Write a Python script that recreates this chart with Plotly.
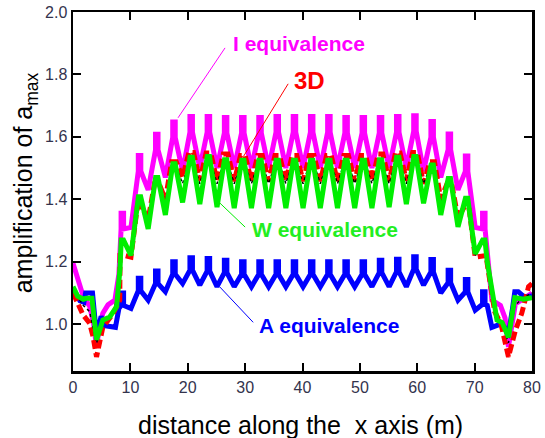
import plotly.graph_objects as go

# ---------------- data ----------------
# x positions (m) of the repeated peaks, shared by all curves
peak_x = [8.6, 11.6, 14.6, 17.6, 20.6, 23.6, 26.6, 29.6, 32.6, 35.6, 38.6,
          41.6, 44.6, 47.6, 50.6, 53.6, 56.6, 59.6, 62.6, 65.6, 68.6, 71.6]
# troughs lie midway between consecutive peaks
trough_x = [10.1, 13.1, 16.1, 19.1, 22.1, 25.1, 28.1, 31.1, 34.1, 37.1, 40.1,
            43.1, 46.1, 49.1, 52.1, 55.1, 58.1, 61.1, 64.1, 67.1, 70.1]

# I equivalence (magenta)
i_left_x = [0, 1.8, 2.9, 3.6, 4.1, 4.6, 5.2, 6.1, 7.3, 8.0]
i_left_y = [1.195, 1.088, 1.058, 1.0, 0.927, 0.99, 1.035, 1.062, 1.077, 1.16]
i_peaks = [1.355, 1.54, 1.608, 1.648, 1.665, 1.665, 1.662, 1.662, 1.662, 1.665, 1.665,
           1.665, 1.665, 1.662, 1.662, 1.662, 1.665, 1.668, 1.649, 1.609, 1.539, 1.355]
i_troughs = [1.31, 1.43, 1.47, 1.49, 1.50, 1.50, 1.50, 1.50, 1.50, 1.50, 1.50,
             1.50, 1.50, 1.50, 1.50, 1.50, 1.50, 1.49, 1.47, 1.43, 1.31]
i_right_x = [72.4, 73.0, 74.5, 75.3, 75.9, 76.5, 77.1, 78.0, 79.1, 80]
i_right_y = [1.20, 1.077, 1.06, 1.02, 0.927, 1.0, 1.065, 1.075, 1.088, 1.10]

# A equivalence (blue)
a_left_x = [0, 1.2, 1.9, 2.2, 3.4, 4.1, 4.9, 5.6, 7.4, 8.0]
a_left_y = [1.115, 1.075, 1.07, 1.10, 1.10, 0.962, 1.025, 0.995, 0.99, 1.05]
a_peaks = [1.10, 1.147, 1.17, 1.20, 1.213, 1.21, 1.205, 1.20, 1.20, 1.20, 1.20,
           1.20, 1.20, 1.20, 1.20, 1.205, 1.208, 1.216, 1.207, 1.173, 1.143, 1.104]
a_troughs = [1.05, 1.077, 1.104, 1.13, 1.125, 1.12, 1.12, 1.12, 1.12, 1.12, 1.12,
             1.12, 1.12, 1.12, 1.12, 1.12, 1.12, 1.125, 1.10, 1.077, 1.045]
a_right_x = [72.2, 73.0, 74.5, 75.2, 75.9, 76.6, 77.0, 77.6, 78.6, 80]
a_right_y = [1.06, 0.99, 1.0, 0.99, 0.968, 1.05, 1.104, 1.104, 1.088, 1.09]

# 3D (red dashed)
d_left_x = [0, 0.6, 1.75, 2.9, 3.5, 4.1, 4.7, 5.2, 7.0, 8.15]
d_left_y = [1.10, 1.077, 1.03, 1.003, 0.96, 0.895, 0.95, 0.99, 1.034, 1.077]
d_peaks = [1.22, 1.375, 1.45, 1.52, 1.55, 1.548, 1.545, 1.54, 1.54, 1.54, 1.54,
           1.54, 1.54, 1.54, 1.54, 1.545, 1.548, 1.55, 1.52, 1.45, 1.375, 1.22]
d_troughs = [1.215, 1.335, 1.40, 1.47, 1.46, 1.46, 1.458, 1.458, 1.458, 1.458, 1.458,
             1.458, 1.458, 1.458, 1.458, 1.458, 1.46, 1.45, 1.40, 1.34, 1.215]
d_right_x = [72.3, 73.5, 74.6, 75.9, 77.1, 78.2, 79.4, 80]
d_right_y = [1.18, 1.04, 1.0, 0.895, 0.98, 1.034, 1.12, 1.13]

# W equivalence (green)
w_left_x = [0, 0.8, 1.8, 2.3, 3.3, 4.1, 5.2, 6.4, 7.6, 8.2]
w_left_y = [1.12, 1.09, 1.08, 1.083, 1.083, 0.95, 1.013, 1.023, 1.056, 1.18]
w_peaks = [1.27, 1.408, 1.47, 1.514, 1.535, 1.537, 1.527, 1.525, 1.525, 1.525, 1.525,
           1.525, 1.525, 1.525, 1.525, 1.527, 1.535, 1.537, 1.51, 1.467, 1.403, 1.27]
w_troughs = [1.22, 1.305, 1.35, 1.39, 1.385, 1.375, 1.372, 1.372, 1.372, 1.372, 1.372,
             1.372, 1.372, 1.372, 1.372, 1.375, 1.385, 1.387, 1.35, 1.312, 1.225]
w_right_x = [72.2, 73.9, 74.8, 75.9, 77.0, 77.6, 78.5, 80]
w_right_y = [1.20, 1.013, 1.005, 0.958, 1.085, 1.083, 1.08, 1.085]

# thin black dashed reference curve
k_left_x = [0, 1.8, 2.9, 4.1, 5.2, 7.0, 8.2]
k_left_y = [1.11, 1.06, 1.04, 0.94, 1.0, 1.04, 1.12]
k_peaks = [1.27, 1.40, 1.465, 1.515, 1.535, 1.537, 1.53, 1.528, 1.528, 1.528, 1.528,
           1.528, 1.528, 1.528, 1.528, 1.53, 1.535, 1.537, 1.512, 1.465, 1.40, 1.27]
k_troughs = [1.22, 1.33, 1.39, 1.45, 1.45, 1.45, 1.45, 1.45, 1.45, 1.45, 1.45,
             1.45, 1.45, 1.45, 1.45, 1.45, 1.45, 1.45, 1.39, 1.33, 1.22]
k_right_x = [72.3, 73.9, 74.8, 75.9, 77.0, 78.2, 80]
k_right_y = [1.19, 1.02, 1.0, 0.94, 1.06, 1.08, 1.10]

x_ticks = [0, 10, 20, 30, 40, 50, 60, 70, 80]
y_ticks = [1.0, 1.2, 1.4, 1.6, 1.8, 2.0]
x_title = "distance along the  x axis (m)"
y_title = "amplification of a<sub>max</sub>"
labels = ["I equivalence", "3D", "W equivalence", "A equivalence"]


def series(left_x, left_y, peaks, troughs, right_x, right_y, half, spike):
    """Join the edge segments with the periodic peaks (flat top of
    half-width `half`, vertical sides of depth `spike`) and troughs."""
    xs, ys = list(left_x), list(left_y)
    for i, (px, top) in enumerate(zip(peak_x, peaks)):
        if spike:
            xs += [px - half, px - half, px + half, px + half]
            ys += [top - spike, top, top, top - spike]
        else:
            xs += [px - half, px + half]
            ys += [top, top]
        if i < len(troughs):
            xs.append(trough_x[i])
            ys.append(troughs[i])
    xs += list(right_x)
    ys += list(right_y)
    return xs, ys


fig = go.Figure()

ix, iy = series(i_left_x, i_left_y, i_peaks, i_troughs, i_right_x, i_right_y, 0.22, 0.05)
ax_, ay_ = series(a_left_x, a_left_y, a_peaks, a_troughs, a_right_x, a_right_y, 0.22, 0.04)
dx, dy = series(d_left_x, d_left_y, d_peaks, d_troughs, d_right_x, d_right_y, 0.4, 0)
wx, wy = series(w_left_x, w_left_y, w_peaks, w_troughs, w_right_x, w_right_y, 0.2, 0)
kx, ky = series(k_left_x, k_left_y, k_peaks, k_troughs, k_right_x, k_right_y, 0.15, 0)

fig.add_trace(go.Scatter(x=ix, y=iy, mode="lines", name=labels[0],
                         line=dict(color="#ff00ff", width=5)))
fig.add_trace(go.Scatter(x=ax_, y=ay_, mode="lines", name=labels[3],
                         line=dict(color="#0000ff", width=5)))
fig.add_trace(go.Scatter(x=dx, y=dy, mode="lines", name=labels[1],
                         line=dict(color="#ff0000", width=5, dash="9px,4px")))
fig.add_trace(go.Scatter(x=kx, y=ky, mode="lines", name="reference",
                         line=dict(color="#000000", width=1.5, dash="3px,3px")))
fig.add_trace(go.Scatter(x=wx, y=wy, mode="lines", name=labels[2],
                         line=dict(color="#00ee00", width=5)))

font = "Liberation Sans, Arial, sans-serif"

# curve labels with thin leader lines
fig.add_annotation(x=27.6, y=1.898, text="<b>I equivalence</b>", showarrow=False,
                   xanchor="left", yanchor="middle",
                   font=dict(family=font, size=21, color="#ff00ff"))
fig.add_annotation(x=38.1, y=1.78, text="<b>3D</b>", showarrow=False,
                   xanchor="left", yanchor="middle",
                   font=dict(family=font, size=24, color="#ff0000"))
fig.add_annotation(x=30.9, y=1.302, text="<b>W equivalence</b>", showarrow=False,
                   xanchor="left", yanchor="middle",
                   font=dict(family=font, size=21, color="#22ee22"))
fig.add_annotation(x=32.1, y=0.997, text="<b>A equivalence</b>", showarrow=False,
                   xanchor="left", yanchor="middle",
                   font=dict(family=font, size=21, color="#0000ff"))

fig.add_shape(type="line", x0=26.5, y0=1.885, x1=18.3, y1=1.661,
              line=dict(color="#ff00ff", width=1))
fig.add_shape(type="line", x0=37.5, y0=1.770, x1=29.7, y1=1.537,
              line=dict(color="#ff0000", width=1))
fig.add_shape(type="line", x0=25.6, y0=1.388, x1=30.0, y1=1.311,
              line=dict(color="#00ee00", width=1))
fig.add_shape(type="line", x0=25.6, y0=1.119, x1=31.4, y1=1.006,
              line=dict(color="#0000ff", width=1))

# axis titles
fig.add_annotation(xref="paper", yref="paper", x=-0.105, y=0.525, text=y_title,
                   textangle=-90, showarrow=False, xanchor="center", yanchor="middle",
                   font=dict(family=font, size=25, color="#000000"))
fig.add_annotation(xref="paper", yref="paper", x=0.495, y=-0.15, text=x_title,
                   showarrow=False, xanchor="center", yanchor="middle",
                   font=dict(family=font, size=25, color="#000000"))

axis_common = dict(showline=True, linecolor="black", linewidth=2.5, mirror="ticks",
                   ticks="inside", ticklen=8, tickwidth=2, tickcolor="black",
                   showgrid=False, zeroline=False, automargin=False,
                   tickfont=dict(family=font, size=16, color="#33334d"))

fig.update_xaxes(range=[0, 80], tickvals=x_ticks, ticktext=[str(v) for v in x_ticks],
                 **axis_common)
fig.update_yaxes(range=[0.85, 2.0], tickvals=y_ticks,
                 ticktext=[f"{v:.1f}" for v in y_ticks], **axis_common)

fig.update_layout(width=545, height=438, autosize=False,
                  margin=dict(l=73, r=13, t=12, b=67, autoexpand=False),
                  plot_bgcolor="white", paper_bgcolor="white",
                  showlegend=False)

fig.write_html("out.html",
               config={"displayModeBar": False, "staticPlot": True},
               post_script="document.body.style.margin='0';"
                           "document.body.style.overflow='hidden';")
